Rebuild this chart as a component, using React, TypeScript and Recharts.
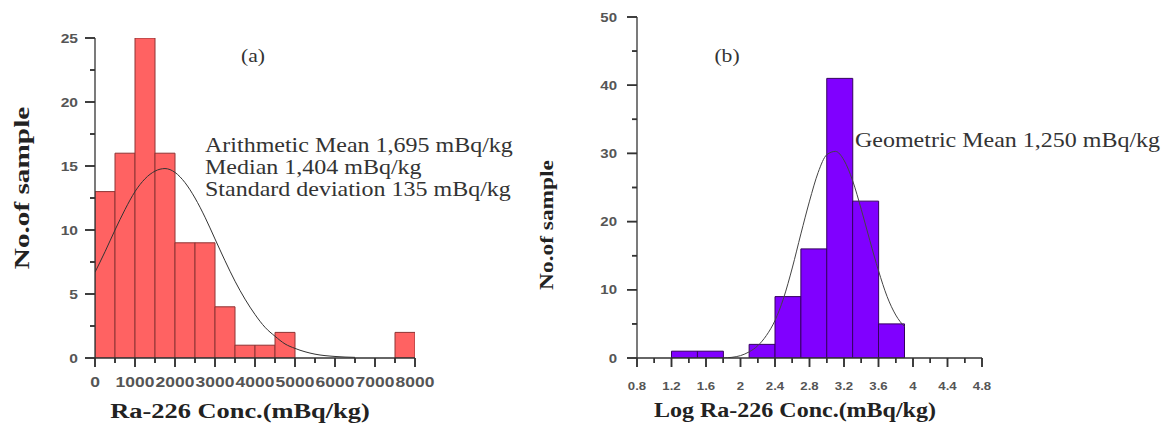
import React from 'react';
import { ComposedChart, Bar, Line, XAxis, YAxis, ReferenceLine } from 'recharts';

// (a) Ra-226 histogram, bins of 500 mBq/kg
const raBinStart = [0, 500, 1000, 1500, 2000, 2500, 3000, 3500, 4000, 4500, 5000, 5500, 6000, 6500, 7000, 7500];
const raCounts = [13, 16, 25, 16, 9, 9, 4, 1, 1, 2, 0, 0, 0, 0, 0, 2];
const raBinWidth = 500;
// fitted normal curve
const raFitX = [0, 250, 500, 750, 1000, 1250, 1500, 1750, 2000, 2250, 2500, 2750, 3000, 3250, 3500, 3750, 4000, 4250, 4500, 4750, 5000, 5500, 6000, 6500];
const raFitY = [6.7, 8.3, 10.0, 11.6, 13.0, 14.0, 14.6, 14.8, 14.5, 13.7, 12.5, 11.0, 9.3, 7.6, 6.0, 4.6, 3.4, 2.4, 1.7, 1.1, 0.75, 0.3, 0.12, 0.05];
const raXTicks = [0, 500, 1000, 1500, 2000, 2500, 3000, 3500, 4000, 4500, 5000, 5500, 6000, 6500, 7000, 7500, 8000];
const raXLabels = [0, 1000, 2000, 3000, 4000, 5000, 6000, 7000, 8000];
const raYTicks = [0, 2.5, 5, 7.5, 10, 12.5, 15, 17.5, 20, 22.5, 25];
const raYLabels = [0, 5, 10, 15, 20, 25];

// (b) log Ra-226 histogram, bins of 0.3
const logBinStart = [1.2, 1.5, 1.8, 2.1, 2.4, 2.7, 3.0, 3.3, 3.6];
const logCounts = [1, 1, 0, 2, 9, 16, 41, 23, 5];
const logBinWidth = 0.3;
const logFitX = [1.8, 1.9, 2.0, 2.1, 2.2, 2.3, 2.4, 2.5, 2.6, 2.7, 2.8, 2.9, 3.0, 3.1, 3.2, 3.3, 3.4, 3.5, 3.6, 3.7, 3.8, 3.9];
const logFitY = [0, 0.1, 0.35, 0.9, 1.8, 3.3, 5.5, 8.8, 13.2, 18.2, 23.0, 27.2, 29.8, 30.3, 29.0, 26.0, 21.8, 17.2, 12.8, 9.0, 6.3, 4.6];
const logXTicks = [0.8, 1.0, 1.2, 1.4, 1.6, 1.8, 2.0, 2.2, 2.4, 2.6, 2.8, 3.0, 3.2, 3.4, 3.6, 3.8, 4.0, 4.2, 4.4, 4.6, 4.8];
const logXLabels = [0.8, 1.2, 1.6, 2.0, 2.4, 2.8, 3.2, 3.6, 4.0, 4.4, 4.8];
const logYTicks = [0, 5, 10, 15, 20, 25, 30, 35, 40, 45, 50];
const logYLabels = [0, 10, 20, 30, 40, 50];

const raBins = raBinStart.map((s, i) => ({ x: s + raBinWidth / 2, count: raCounts[i] }));
const raFit = raFitX.map((x, i) => ({ x, y: raFitY[i] }));
const logBins = logBinStart.map((s, i) => ({ x: s + logBinWidth / 2, count: logCounts[i] }));
const logFit = logFitX.map((x, i) => ({ x, y: logFitY[i] }));

const axisColor = '#333';
const tickFont = '"Liberation Sans", Arial, sans-serif';
const serif = '"Liberation Serif", "Times New Roman", serif';

// tick marks as small filled rects + bold labels on the major ones
const makeXTick = (labels: number[], fontSize: number, sx: number, dy: number) => (p: any) => {
  const v = p.payload.value;
  const major = labels.includes(v);
  const len = major ? 9 : 5;
  return (
    <g>
      <rect x={p.x - 0.75} y={p.y} width={1.5} height={len} fill={axisColor} />
      {major && (
        <text
          transform={`translate(${p.x},${p.y + dy}) scale(${sx},1)`}
          textAnchor="middle"
          fontFamily={tickFont}
          fontWeight="bold"
          fontSize={fontSize}
          fill="#555"
        >
          {String(v)}
        </text>
      )}
    </g>
  );
};

const makeYTick = (labels: number[], fontSize: number, sx: number, dx: number) => (p: any) => {
  const v = p.payload.value;
  const major = labels.includes(v);
  const len = major ? 10 : 5;
  return (
    <g>
      <rect x={p.x - len} y={p.y - 0.75} width={len} height={1.5} fill={axisColor} />
      {major && (
        <text
          transform={`translate(${p.x - dx},${p.y + fontSize * 0.36}) scale(${sx},1)`}
          textAnchor="end"
          fontFamily={tickFont}
          fontWeight="bold"
          fontSize={fontSize}
          fill="#555"
        >
          {String(v)}
        </text>
      )}
    </g>
  );
};

// tick marks again as reference segments (px length converted to data units)
const xTickSegs = (ticks: number[], labels: number[], yPerPx: number, xAxisId: string) =>
  ticks.map((v) => (
    <ReferenceLine
      key={`xt${v}`}
      xAxisId={xAxisId}
      segment={[{ x: v, y: 0 }, { x: v, y: -(labels.includes(v) ? 9 : 5) * yPerPx }]}
      stroke={axisColor}
      strokeWidth={1.5}
      ifOverflow="visible"
    />
  ));

const yTickSegs = (ticks: number[], labels: number[], x0: number, xPerPx: number, xAxisId: string) =>
  ticks.map((v) => (
    <ReferenceLine
      key={`yt${v}`}
      xAxisId={xAxisId}
      segment={[{ x: x0, y: v }, { x: x0 - (labels.includes(v) ? 10 : 5) * xPerPx, y: v }]}
      stroke={axisColor}
      strokeWidth={1.5}
      ifOverflow="visible"
    />
  ));

export default function App() {
  return (
    <div style={{ position: 'absolute', left: 0, top: 0, width: 1173, height: 436, background: '#fff' }}>
      <div style={{ position: 'absolute', left: 0, top: 0 }}>
        <ComposedChart
          width={520}
          height={436}
          data={raBins}
          margin={{ top: 38, right: 105, bottom: 0, left: 0 }}
          barCategoryGap={0}
          barGap={0}
        >
          <XAxis
            xAxisId="bins"
            dataKey="x"
            type="number"
            domain={[0, 8000]}
            ticks={raXTicks}
            interval={0}
            height={78}
            tickSize={0}
            tickMargin={0}
            tickLine={false}
            axisLine={{ stroke: axisColor, strokeWidth: 1.3 }}
            tick={makeXTick(raXLabels, 14, 1.25, 29)}
            allowDataOverflow
          />
          <XAxis xAxisId="fit" dataKey="x" type="number" domain={[0, 8000]} hide allowDataOverflow />
          <YAxis
            type="number"
            domain={[0, 25]}
            ticks={raYTicks}
            interval={0}
            width={95}
            tickSize={0}
            tickMargin={0}
            tickLine={false}
            axisLine={{ stroke: axisColor, strokeWidth: 1.3 }}
            tick={makeYTick(raYLabels, 13, 1.2, 17)}
            allowDataOverflow
          />
          <Bar xAxisId="bins" dataKey="count" fill="#ff6262" stroke="#8e3434" strokeWidth={1} isAnimationActive={false} />
          <Line
            xAxisId="fit"
            data={raFit}
            dataKey="y"
            type="monotone"
            stroke="#333"
            strokeWidth={1}
            dot={false}
            activeDot={false}
            isAnimationActive={false}
          />
          {xTickSegs(raXTicks, raXLabels, 25 / 320, 'fit')}
          {yTickSegs(raYTicks, raYLabels, 0, 8000 / 320, 'fit')}
        </ComposedChart>
      </div>

      <div style={{ position: 'absolute', left: 520, top: 0 }}>
        <ComposedChart
          width={653}
          height={436}
          data={logBins}
          margin={{ top: 17, right: 191, bottom: 0, left: 0 }}
          barCategoryGap={0}
          barGap={0}
        >
          <XAxis
            xAxisId="bins"
            dataKey="x"
            type="number"
            domain={[0.8, 4.8]}
            ticks={logXTicks}
            interval={0}
            height={78}
            tickSize={0}
            tickMargin={0}
            tickLine={false}
            axisLine={{ stroke: axisColor, strokeWidth: 1.3 }}
            tick={makeXTick(logXLabels, 11, 1.2, 32)}
            allowDataOverflow
          />
          <XAxis xAxisId="fit" dataKey="x" type="number" domain={[0.8, 4.8]} hide allowDataOverflow />
          <YAxis
            type="number"
            domain={[0, 50]}
            ticks={logYTicks}
            interval={0}
            width={117}
            tickSize={0}
            tickMargin={0}
            tickLine={false}
            axisLine={{ stroke: axisColor, strokeWidth: 1.3 }}
            tick={makeYTick(logYLabels, 12.5, 1.2, 20)}
            allowDataOverflow
          />
          <Bar xAxisId="bins" dataKey="count" fill="#8000ff" stroke="#34005f" strokeWidth={1} isAnimationActive={false} />
          <Line
            xAxisId="fit"
            data={logFit}
            dataKey="y"
            type="monotone"
            stroke="#444"
            strokeWidth={1}
            dot={false}
            activeDot={false}
            isAnimationActive={false}
          />
          {xTickSegs(logXTicks, logXLabels, 50 / 341, 'fit')}
          {yTickSegs(logYTicks, logYLabels, 0.8, 4 / 345, 'fit')}
        </ComposedChart>
      </div>

      <svg width={1173} height={436} style={{ position: 'absolute', left: 0, top: 0, pointerEvents: 'none' }}>
        <g fontFamily={serif} fill="#333">
          <text transform="translate(253,62) scale(1.2,1)" textAnchor="middle" fontSize={18}>(a)</text>
          <text transform="translate(205,152) scale(1.2,1)" fontSize={20}>Arithmetic Mean 1,695 mBq/kg</text>
          <text transform="translate(205,174) scale(1.2,1)" fontSize={20}>Median 1,404 mBq/kg</text>
          <text transform="translate(205,196) scale(1.2,1)" fontSize={20}>Standard deviation 135 mBq/kg</text>
          <text transform="translate(727,62) scale(1.2,1)" textAnchor="middle" fontSize={18}>(b)</text>
          <text transform="translate(855,147) scale(1.2,1)" fontSize={20}>Geometric Mean 1,250 mBq/kg</text>
        </g>
        <g fontFamily={serif} fontWeight="bold" fill="#222">
          <text transform="translate(240,418) scale(1.2,1)" textAnchor="middle" fontSize={22}>Ra-226 Conc.(mBq/kg)</text>
          <text transform="translate(795,417) scale(1.2,1)" textAnchor="middle" fontSize={20}>Log Ra-226 Conc.(mBq/kg)</text>
          <text transform="translate(22,188) rotate(-90) scale(1.33,1)" textAnchor="middle" dominantBaseline="central" fontSize={22}>No.of sample</text>
          <text transform="translate(547,225) rotate(-90) scale(1.3,1)" textAnchor="middle" dominantBaseline="central" fontSize={18}>No.of sample</text>
        </g>
      </svg>
    </div>
  );
}
